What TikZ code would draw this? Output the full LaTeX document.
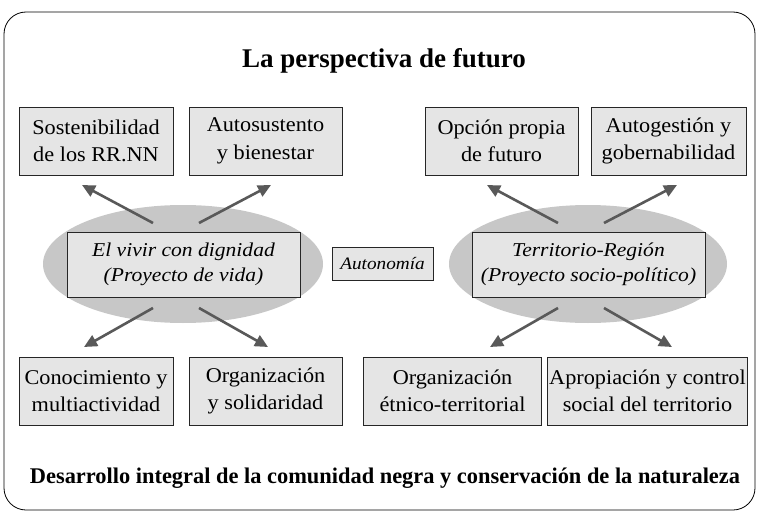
\documentclass[tikz,border=0pt]{standalone}
\usepackage{fontspec}
\setmainfont{Liberation Serif}
\newfontfamily\boxfont[FakeStretch=1.06]{Liberation Serif}
\newfontfamily\itbox[FakeStretch=1.1]{Liberation Serif Italic}
\usetikzlibrary{arrows.meta,shapes.geometric}
\definecolor{boxgray}{gray}{0.9}
\definecolor{ellgray}{gray}{0.78}
\definecolor{arrgray}{gray}{0.35}
\begin{document}
\begin{tikzpicture}[x=1pt,y=-1pt,
  stepbox/.style={draw=black!85, line width=0.9pt, fill=boxgray, inner sep=0pt,
    minimum height=68pt, align=center, font=\boxfont\fontsize{21}{27.5}\selectfont},
  innerbox/.style={draw=black!85, line width=0.9pt, fill=boxgray, inner sep=0pt,
    minimum width=233pt, minimum height=65pt, align=center,
    font=\itbox\fontsize{19.6}{25}\selectfont},
  ell/.style={ellipse, fill=ellgray, inner sep=0pt, minimum width=280pt, minimum height=118pt},
  arr/.style={draw=arrgray, line width=2.6pt, -{Triangle[length=13pt,width=12pt]}}]
\useasboundingbox (0,0) rectangle (758,511);
\draw[line width=0.8pt, rounded corners=22pt] (4,12) rectangle (755,510);

\node[font=\bfseries\fontsize{27}{32}\selectfont, anchor=base] (title) at (384,68) {La perspectiva de futuro};

% top boxes
\node[stepbox, minimum width=154pt] (b1) at (96,141) {Sostenibilidad\\de los RR.NN};
\node[stepbox, minimum width=153pt] (b2) at (265.5,141) {Autosustento\\y bienestar};
\node[stepbox, minimum width=153pt] (b3) at (501.5,141) {Opción propia\\de futuro};
\node[stepbox, minimum width=155pt] (b4) at (668.5,141) {Autogestión y\\gobernabilidad};

% bottom boxes
\node[stepbox, minimum width=154pt] (b5) at (96,391) {Conocimiento y\\multiactividad};
\node[stepbox, minimum width=153pt] (b6) at (265.5,391) {Organización\\y solidaridad};
\node[stepbox, minimum width=178pt] (b7) at (452.5,391) {Organización\\étnico-territorial};
\node[stepbox, minimum width=200pt] (b8) at (647.5,391) {Apropiación y control\\social del territorio};

% ellipses
\node[ell] (e1) at (183,264) {};
\node[ell, minimum width=278pt] (e2) at (588,264) {};
\node[innerbox] (p1) at (183.5,264.5) {El vivir con dignidad\\(Proyecto de vida)};
\node[innerbox] (p2) at (588.5,264.5) {Territorio-Región\\(Proyecto socio-político)};
\node[draw=black!85, line width=0.9pt, fill=boxgray, inner sep=0pt, minimum width=101pt, minimum height=33pt,
  font=\itbox\fontsize{17.5}{20}\selectfont] (auto) at (382.5,263.5) {Autonomía};

% arrow ends
\coordinate (s1) at (153,223); \coordinate (t1) at (82,185);
\coordinate (s2) at (199,223); \coordinate (t2) at (271,185);
\coordinate (s3) at (153,308); \coordinate (t3) at (84,347);
\coordinate (s4) at (199,308); \coordinate (t4) at (268,347);
\coordinate (s5) at (558,223); \coordinate (t5) at (487,185);
\coordinate (s6) at (604,223); \coordinate (t6) at (677,185);
\coordinate (s7) at (558,308); \coordinate (t7) at (490,347);
\coordinate (s8) at (604,308); \coordinate (t8) at (672,347);
\foreach \i in {1,...,8} { \draw[arr] (s\i) -- (t\i); }

\node[font=\bfseries\fontsize{22.4}{26}\selectfont, anchor=base] (foot) at (385,483)
  {Desarrollo integral de la comunidad negra y conservación de la naturaleza};
\end{tikzpicture}
\end{document}
